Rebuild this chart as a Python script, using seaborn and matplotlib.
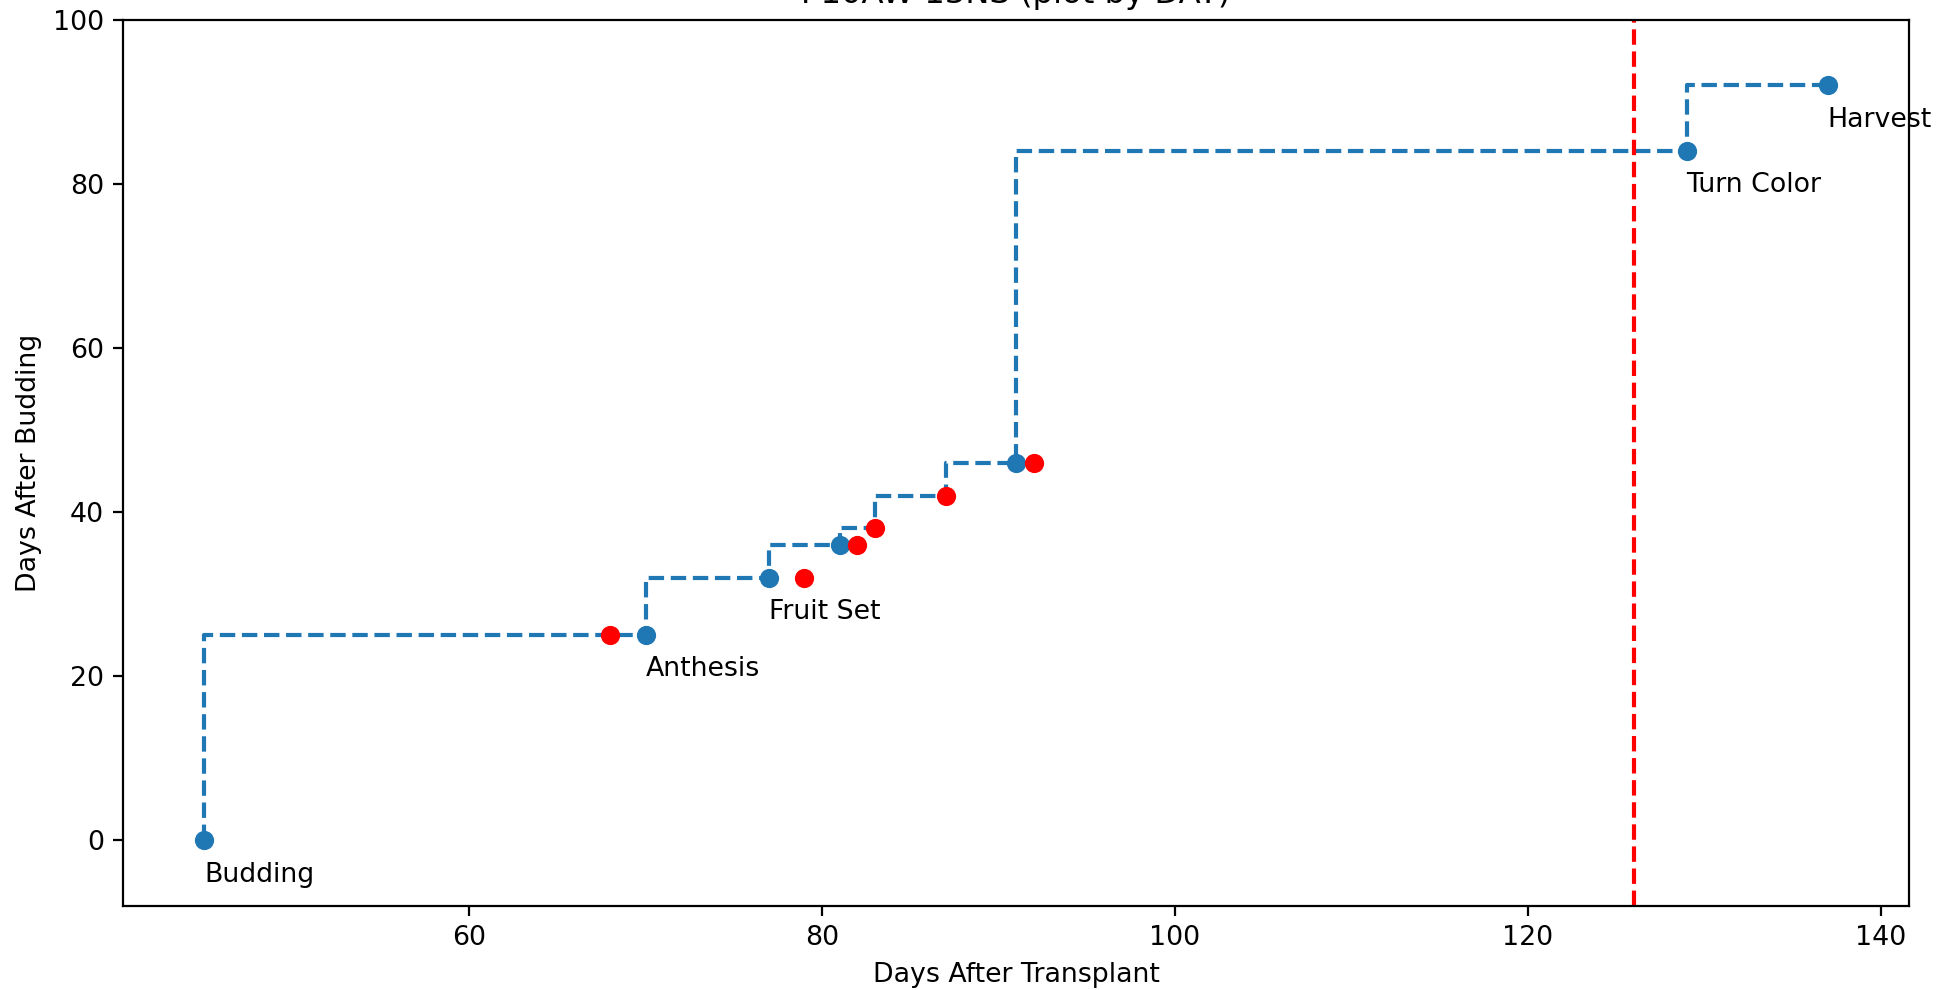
import pandas as pd
import matplotlib
matplotlib.use("Agg")
import matplotlib.pyplot as plt
import seaborn as sns

# stage path (step line)
path_dat = [45, 70, 77, 81, 83, 87, 91, 129, 137]
path_dab = [0, 25, 32, 36, 38, 42, 46, 84, 92]

# labelled stages (blue)
stage_dat = [45, 70, 77, 81, 91, 129, 137]
stage_dab = [0, 25, 32, 36, 46, 84, 92]
stage_names = ["Budding", "Anthesis", "Fruit Set", "", "", "Turn Color", "Harvest"]

# observations (red)
obs_dat = [68, 79, 82, 83, 87, 92]
obs_dab = [25, 32, 36, 38, 42, 46]

cutoff_dat = 126

df_path = pd.DataFrame({"DAT": path_dat, "DAB": path_dab})
df_stage = pd.DataFrame({"DAT": stage_dat, "DAB": stage_dab, "name": stage_names})
df_obs = pd.DataFrame({"DAT": obs_dat, "DAB": obs_dab})

plt.rcParams["font.size"] = 9.65

fig, ax = plt.subplots(figsize=(9.68, 4.95), dpi=200)

sns.lineplot(data=df_path, x="DAT", y="DAB", drawstyle="steps-pre",
             linestyle="--", color="#1f77b4", linewidth=1.5, ax=ax)
sns.scatterplot(data=df_stage, x="DAT", y="DAB", color="#1f77b4",
                s=48, linewidth=0, zorder=3, ax=ax)
sns.scatterplot(data=df_obs, x="DAT", y="DAB", color="red",
                s=48, linewidth=0, zorder=3, ax=ax)

# etiquetas de etapas
for _, r in df_stage.iterrows():
    if r["name"]:
        ax.text(r["DAT"], r["DAB"] - 2.6, r["name"], ha="left", va="top")

ax.axvline(cutoff_dat, color="red", linestyle="--", linewidth=1.5)

ax.set_ylim(-8, 100)
ax.set_xlabel("Days After Transplant")
ax.set_ylabel("Days After Budding")
ax.set_title("P10AW-13NS (plot by DAT)", fontsize=11.6)

plt.subplots_adjust(left=0.0637, right=0.986, top=0.980, bottom=0.085)
plt.savefig("out.png", dpi=200)
